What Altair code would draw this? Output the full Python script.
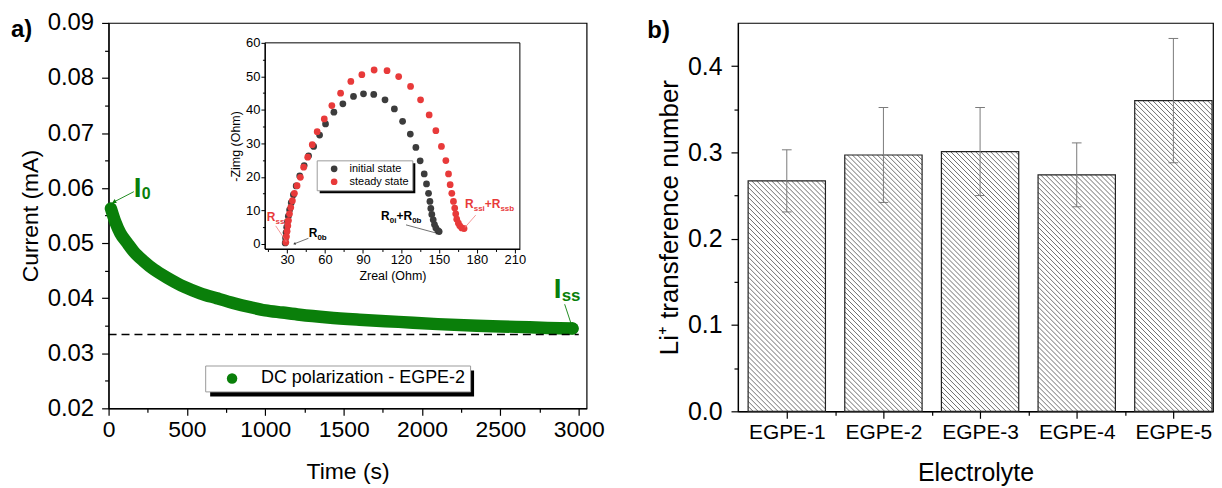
import json
import math
import altair as alt
import pandas as pd

FONT = "Liberation Sans"
GREEN = "#0a7f0a"
RED = "#e83a3a"
DARK = "#3c3c3c"

# ---------------- Panel a : DC polarization ----------------
time_s = [15, 45, 75, 120, 160, 225, 290, 375, 480, 585, 690, 800, 900, 1000, 1110,
          1220, 1400, 1600, 1850, 2100, 2350, 2600, 2800, 2960]
current_mA = [0.0563, 0.0537, 0.0518, 0.0500, 0.0485, 0.0467, 0.0452, 0.0437, 0.0421,
              0.0409, 0.0400, 0.0391, 0.0384, 0.0378, 0.0374, 0.0370, 0.0365, 0.0361,
              0.0357, 0.0353, 0.0350, 0.0348, 0.0346, 0.0345]
steady_level = [0.0334]
steady_span = [0, 3000]
series_label = "DC polarization - EGPE-2"

# ---------------- Inset : Nyquist plots ----------------
init_zreal = [28.5, 28.8, 29.2, 29.7, 30.3, 31.0, 32.0, 33.3, 35.0, 37.2, 40.0, 43.5, 47.0,
              51.0, 55.7, 60.4, 67.0, 74.1, 82.5, 90.4, 98.5, 107.4, 114.8, 121.3, 127.4,
              131.8, 135.2, 138.4, 140.2, 141.8, 142.9, 143.6, 144.4, 145.5, 146.5, 147.6,
              149.2, 150.2]
init_zimg = [0.3, 1.8, 3.4, 5.0, 6.6, 8.3, 10.2, 12.3, 14.7, 17.3, 20.3, 23.4, 26.3, 29.1,
             32.5, 35.8, 39.3, 41.8, 44.0, 44.8, 44.6, 43.0, 40.3, 36.6, 32.8, 28.8, 24.8,
             20.9, 17.9, 15.1, 12.7, 10.6, 8.8, 7.2, 5.8, 4.8, 4.0, 3.7]
steady_zreal = [29.0, 29.5, 30.0, 30.6, 31.1, 31.9, 32.9, 34.2, 35.8, 37.9, 40.5, 43.1, 46.3,
                49.9, 53.8, 59.4, 65.4, 72.3, 80.4, 89.1, 98.8, 109.0, 118.2, 127.6, 135.5,
                142.3, 147.6, 152.0, 155.5, 157.6, 158.9, 160.2, 161.5, 162.5, 163.3, 164.1,
                165.4, 166.5, 168.1, 169.9]
steady_zimg = [0.5, 2.2, 3.8, 5.4, 7.0, 9.0, 10.9, 12.9, 15.1, 17.4, 19.9, 22.9, 25.9, 29.6,
               33.5, 37.3, 41.3, 45.0, 48.5, 50.5, 51.9, 51.7, 49.95, 47.0, 43.0, 38.5, 33.8,
               29.1, 24.9, 20.9, 17.7, 15.1, 12.7, 10.7, 9.0, 7.4, 6.2, 5.4, 4.8, 4.6]
state_labels = ["initial state", "steady state"]

# ---------------- Panel b : transference numbers ----------------
electrolytes = ["EGPE-1", "EGPE-2", "EGPE-3", "EGPE-4", "EGPE-5"]
t_li = [0.267, 0.297, 0.301, 0.274, 0.360]
t_err = [0.036, 0.055, 0.051, 0.037, 0.072]

# ---------------- geometry / styling ----------------
W_A, H_A = 480, 387
XA = [0, 3050]
YA = [0.02, 0.09]
SXA = W_A / (XA[1] - XA[0])
SYA = H_A / (YA[1] - YA[0])

IN_X = [12.5, 214]
IN_Y = [-1.5, 60]
IN_XR = [157, 413]
IN_YR = [227, 20]
SXI = (IN_XR[1] - IN_XR[0]) / (IN_X[1] - IN_X[0])
SYI = (IN_YR[0] - IN_YR[1]) / (IN_Y[1] - IN_Y[0])

W_B, H_B = 477, 390
XB = [0.495, 5.41]
YB = [0, 0.45]
SXB = W_B / (XB[1] - XB[0])
SYB = H_B / (YB[1] - YB[0])
BAR_HALF = 0.4
CAP_HALF = 0.05
HATCH_STEP = 5.0


def pieces(x, y, parts, sx, sy, color):
    return [dict(x=x + dx / sx, y=y - dy / sy, text=t, size=s, color=color)
            for t, dx, dy, s in parts]


def arrow(x0, y0, x1, y1, sx, sy, color):
    dxp = (x1 - x0) * sx
    dyp = -(y1 - y0) * sy
    ang = math.degrees(math.atan2(dxp, -dyp)) % 360
    return dict(x0=x0, y0=y0, x1=x1, y1=y1, ang=ang, color=color)


def major_axis(orient, values, fmt=None, lsize=23, tsize=23, tick=7, lpad=4, tpad=8,
               offset=None, width=1.2):
    kw = dict(orient=orient, values=values, tickSize=tick, labelFontSize=lsize,
              titleFontSize=tsize, labelPadding=lpad, titlePadding=tpad,
              labelOverlap=False, domainWidth=width, tickWidth=width)
    if fmt:
        kw["format"] = fmt
    if orient in ("bottom", "top"):
        kw["labelFlush"] = False
    if offset is not None:
        kw["offset"] = offset
    return alt.Axis(**kw)


def minor_axis(orient, values, tick=4, offset=None, width=1.2):
    kw = dict(orient=orient, values=values, tickSize=tick, labels=False, domain=False,
              title=None, tickWidth=width, grid=False)
    if offset is not None:
        kw["offset"] = offset
    return alt.Axis(**kw)


one = pd.DataFrame({"k": [0]})

# ================= Panel a =================
xs_a = alt.Scale(domain=XA, nice=False, zero=False)
ys_a = alt.Scale(domain=YA, nice=False, zero=False)

x_axis_a = major_axis("bottom", list(range(0, 3001, 500)), fmt="d", lsize=23, tsize=23,
                      lpad=3, tpad=19)
x_minor_a = minor_axis("bottom", list(range(250, 3001, 500)))
y_axis_a = major_axis("left", [round(0.02 + 0.01 * k, 2) for k in range(8)], fmt=".2f",
                      lsize=24, tsize=23, lpad=8, tpad=5)
y_minor_a = minor_axis("left", [round(0.025 + 0.01 * k, 3) for k in range(7)])

df_dc = pd.DataFrame({"t": time_s, "I": current_mA, "series": series_label})

curve = alt.Chart(df_dc).mark_line(
    color=GREEN, strokeWidth=12.5, strokeCap="round", strokeJoin="round", interpolate="monotone"
).encode(
    x=alt.X("t:Q", scale=xs_a, axis=x_axis_a, title="Time (s)"),
    y=alt.Y("I:Q", scale=ys_a, axis=y_axis_a, title="Current (mA)"),
)

curve_pts = alt.Chart(df_dc.tail(1)).mark_circle(size=150, opacity=1).encode(
    x=alt.X("t:Q", scale=xs_a, axis=None),
    y=alt.Y("I:Q", scale=ys_a, axis=None),
    color=alt.Color("series:N", scale=alt.Scale(domain=[series_label], range=[GREEN]),
                    legend=alt.Legend(title=None, orient="none", legendX=97, legendY=344,
                                      fillColor="white", strokeColor="#9a9a9a", padding=4,
                                      labelFontSize=18, labelFont=FONT, labelLimit=400,
                                      symbolSize=110, symbolOffset=14, labelOffset=20,
                                      symbolType="circle", symbolStrokeWidth=0)),
)

df_dash = pd.DataFrame({"t0": [steady_span[0]], "t1": [steady_span[1]], "I": steady_level})
dash = alt.Chart(df_dash).mark_rule(color="black", strokeWidth=1.5, strokeDash=[8, 5]).encode(
    x=alt.X("t0:Q", scale=xs_a, axis=x_minor_a), x2="t1:Q",
    y=alt.Y("I:Q", scale=ys_a, axis=y_minor_a),
)

txt_a = (pieces(161, 0.05844, [("I", 0, 0, 28), ("0", 8, 2, 16)], SXA, SYA, GREEN)
         + pieces(2840, 0.04013, [("I", 0, 0, 28), ("ss", 8, 4, 17)], SXA, SYA, GREEN))
df_txt_a = pd.DataFrame(txt_a)
ann_a = alt.Chart(df_txt_a).mark_text(align="left", baseline="alphabetic", fontWeight="bold",
                                      font=FONT).encode(
    x=alt.X("x:Q", scale=xs_a, axis=None),
    y=alt.Y("y:Q", scale=ys_a, axis=None),
    text="text:N",
    size=alt.Size("size:Q", scale=None),
    color=alt.Color("color:N", scale=None),
)
arr_a = pd.DataFrame([arrow(161, 0.05935, 38, 0.05754, SXA, SYA, GREEN),
                      arrow(2910, 0.03891, 2952, 0.03529, SXA, SYA, GREEN)])
arr_a_lines = alt.Chart(arr_a).mark_rule(strokeWidth=0.9).encode(
    x=alt.X("x0:Q", scale=xs_a, axis=None), x2="x1:Q",
    y=alt.Y("y0:Q", scale=ys_a, axis=None), y2="y1:Q",
    color=alt.Color("color:N", scale=None),
)
arr_a_heads = alt.Chart(arr_a).mark_point(shape="triangle", filled=True, size=22, opacity=1).encode(
    x=alt.X("x1:Q", scale=xs_a, axis=None),
    y=alt.Y("y1:Q", scale=ys_a, axis=None),
    angle=alt.Angle("ang:Q", scale=None),
    color=alt.Color("color:N", scale=None),
)

shadow_a = alt.Chart(one).mark_rect(color="black").encode(
    x=alt.value(102), x2=alt.value(367), y=alt.value(349), y2=alt.value(375))
label_a = alt.Chart(one).mark_text(text="a)", align="left", baseline="alphabetic",
                                   fontSize=24, fontWeight="bold", font=FONT, color="black").encode(
    x=alt.value(-98), y=alt.value(14))

main_group = alt.layer(curve, dash, arr_a_lines, arr_a_heads, ann_a, curve_pts,
                       shadow_a, label_a).resolve_axis(x="independent", y="independent")

# ---- inset ----
xs_i = alt.Scale(domain=IN_X, range=IN_XR, nice=False, zero=False)
ys_i = alt.Scale(domain=IN_Y, range=IN_YR, nice=False, zero=False)
OFF_IX = IN_YR[0] - H_A
OFF_IY = -IN_XR[0]
x_axis_i = major_axis("bottom", list(range(30, 211, 30)), lsize=13, tsize=12.5, tick=4,
                      lpad=1, tpad=3, offset=OFF_IX, width=1)
x_minor_i = minor_axis("bottom", list(range(15, 211, 30)), tick=2.5, offset=OFF_IX, width=1)
y_axis_i = major_axis("left", list(range(0, 61, 10)), lsize=13, tsize=12.5, tick=4,
                      lpad=1, tpad=3, offset=OFF_IY, width=1)
y_minor_i = minor_axis("left", list(range(5, 61, 10)), tick=2.5, offset=OFF_IY, width=1)

df_eis = pd.concat([
    pd.DataFrame({"zr": init_zreal, "zi": init_zimg, "state": state_labels[0]}),
    pd.DataFrame({"zr": steady_zreal, "zi": steady_zimg, "state": state_labels[1]}),
], ignore_index=True)

eis_pts = alt.Chart(df_eis).mark_circle(size=46, opacity=1).encode(
    x=alt.X("zr:Q", scale=xs_i, axis=x_axis_i, title="Zreal (Ohm)"),
    y=alt.Y("zi:Q", scale=ys_i, axis=y_axis_i, title="-Zimg (Ohm)"),
    color=alt.Color("state:N", scale=alt.Scale(domain=state_labels, range=[DARK, RED]),
                    legend=alt.Legend(title=None, orient="none", legendX=209, legendY=138,
                                      fillColor="white", strokeColor="#9a9a9a", padding=3,
                                      labelFontSize=11, labelFont=FONT, symbolSize=45,
                                      symbolOffset=9, labelOffset=10, rowPadding=1,
                                      symbolType="circle", symbolStrokeWidth=0)),
    order=alt.Order("state:N"),
)

df_frame = pd.DataFrame({"x0": [IN_X[0]], "x1": [IN_X[1]], "y0": [IN_Y[0]], "y1": [IN_Y[1]]})
frame_i = alt.Chart(df_frame).mark_rect(fillOpacity=0, stroke="black", strokeWidth=1).encode(
    x=alt.X("x0:Q", scale=xs_i, axis=x_minor_i), x2="x1:Q",
    y=alt.Y("y0:Q", scale=ys_i, axis=y_minor_i), y2="y1:Q",
)

txt_i = (pieces(14.0, 6.9, [("R", 0, 0, 12), ("ssb", 8.7, 3, 8)], SXI, SYI, RED)
         + pieces(47.1, 2.1, [("R", 0, 0, 12), ("0b", 8.7, 3, 8)], SXI, SYI, "black")
         + pieces(104.3, 7.2, [("R", 0, 0, 12), ("0i", 8.7, 3, 8), ("+R", 15.5, 0, 12),
                               ("0b", 31.2, 3, 8)], SXI, SYI, "black")
         + pieces(170.7, 10.7, [("R", 0, 0, 12), ("ssi", 8.7, 3, 8), ("+R", 19.8, 0, 12),
                                ("ssb", 35.5, 3, 8)], SXI, SYI, RED))
df_txt_i = pd.DataFrame(txt_i)
ann_i = alt.Chart(df_txt_i).mark_text(align="left", baseline="alphabetic", fontWeight="bold",
                                      font=FONT).encode(
    x=alt.X("x:Q", scale=xs_i, axis=None),
    y=alt.Y("y:Q", scale=ys_i, axis=None),
    text="text:N",
    size=alt.Size("size:Q", scale=None),
    color=alt.Color("color:N", scale=None),
)
arr_i = pd.DataFrame([
    arrow(21.0, 5.4, 29.0, 0.9, SXI, SYI, "#f06a6a"),
    arrow(46.9, 1.7, 36.1, 0.1, SXI, SYI, "#333333"),
    arrow(124.0, 5.7, 148.4, 3.2, SXI, SYI, "#333333"),
    arrow(179.1, 8.6, 171.2, 5.2, SXI, SYI, "#f06a6a"),
])
arr_i_lines = alt.Chart(arr_i).mark_rule(strokeWidth=0.7).encode(
    x=alt.X("x0:Q", scale=xs_i, axis=None), x2="x1:Q",
    y=alt.Y("y0:Q", scale=ys_i, axis=None), y2="y1:Q",
    color=alt.Color("color:N", scale=None),
)
arr_i_heads = alt.Chart(arr_i).mark_point(shape="triangle", filled=True, size=8, opacity=1).encode(
    x=alt.X("x1:Q", scale=xs_i, axis=None),
    y=alt.Y("y1:Q", scale=ys_i, axis=None),
    angle=alt.Angle("ang:Q", scale=None),
    color=alt.Color("color:N", scale=None),
)
shadow_i = alt.Chart(one).mark_rect(color="black").encode(
    x=alt.value(212), x2=alt.value(308), y=alt.value(141), y2=alt.value(171))

inset_group = alt.layer(eis_pts, frame_i, arr_i_lines, arr_i_heads, ann_i,
                        shadow_i).resolve_axis(x="independent", y="independent")

panel_a = alt.layer(main_group, inset_group).resolve_scale(
    x="independent", y="independent", color="independent"
).properties(width=W_A, height=H_A)

# ================= Panel b =================
df_b = pd.DataFrame({"name": electrolytes, "pos": list(range(1, len(electrolytes) + 1)),
                     "v": t_li, "e": t_err})

hatch = []
for pos, v in zip(df_b["pos"], t_li):
    L = (pos - BAR_HALF) * SXB
    R = (pos + BAR_HALF) * SXB
    T = v * SYB
    k = L + HATCH_STEP
    while k < R + T:
        x1 = max(L, k - T)
        x2 = min(R, k)
        if x2 > x1:
            hatch.append(dict(hx1=x1 / SXB, hy1=(k - x1) / SYB, hx2=x2 / SXB, hy2=(k - x2) / SYB))
        k += HATCH_STEP
df_hatch = pd.DataFrame(hatch)

xs_b = alt.Scale(domain=XB, nice=False, zero=False)
ys_b = alt.Scale(domain=YB, nice=False, zero=False)
names_js = json.dumps(electrolytes)
x_axis_b = alt.Axis(
    orient="bottom", values=list(range(1, len(electrolytes) + 1)),
    labelExpr=f"{names_js}[datum.value - 1]",
    tickSize=7, labelFontSize=21, titleFontSize=25, labelPadding=3, titlePadding=18,
    labelFlush=False, labelOverlap=False, domainWidth=1.2, tickWidth=1.2)
x_minor_b = minor_axis("bottom", [1.5, 2.5, 3.5, 4.5])
y_axis_b = major_axis("left", [round(0.1 * k, 1) for k in range(5)], fmt=".1f", lsize=25,
                      tsize=26, tick=7, lpad=9, tpad=5)
y_minor_b = minor_axis("left", [round(0.05 + 0.1 * k, 2) for k in range(4)])

base_b = alt.Chart(df_b).transform_calculate(
    x0=f"datum.pos - {BAR_HALF}", x1=f"datum.pos + {BAR_HALF}",
    lo="datum.v - datum.e", hi="datum.v + datum.e", zero="0",
    c0=f"datum.pos - {CAP_HALF}", c1=f"datum.pos + {CAP_HALF}",
)

bars_fill = base_b.mark_rect(fill="white").encode(
    x=alt.X("x0:Q", scale=xs_b, axis=x_axis_b, title="Electrolyte"), x2="x1:Q",
    y=alt.Y("zero:Q", scale=ys_b, axis=y_axis_b, title="Li\u207a transference number"),
    y2="v:Q",
)
hatch_l = alt.Chart(df_hatch).mark_rule(color="#4a4a4a", strokeWidth=0.8).encode(
    x=alt.X("hx1:Q", scale=xs_b, axis=x_minor_b), x2="hx2:Q",
    y=alt.Y("hy1:Q", scale=ys_b, axis=y_minor_b), y2="hy2:Q",
)
bars_outline = base_b.mark_rect(fillOpacity=0, stroke="#222222", strokeWidth=1.2).encode(
    x=alt.X("x0:Q", scale=xs_b, axis=None), x2="x1:Q",
    y=alt.Y("zero:Q", scale=ys_b, axis=None), y2="v:Q",
)
err_v = base_b.mark_rule(color="#7a7a7a", strokeWidth=1).encode(
    x=alt.X("pos:Q", scale=xs_b, axis=None),
    y=alt.Y("lo:Q", scale=ys_b, axis=None), y2="hi:Q",
)
err_lo = base_b.mark_rule(color="#7a7a7a", strokeWidth=1).encode(
    x=alt.X("c0:Q", scale=xs_b, axis=None), x2="c1:Q",
    y=alt.Y("lo:Q", scale=ys_b, axis=None),
)
err_hi = base_b.mark_rule(color="#7a7a7a", strokeWidth=1).encode(
    x=alt.X("c0:Q", scale=xs_b, axis=None), x2="c1:Q",
    y=alt.Y("hi:Q", scale=ys_b, axis=None),
)
label_b = alt.Chart(one).mark_text(text="b)", align="left", baseline="alphabetic",
                                   fontSize=24, fontWeight="bold", font=FONT, color="black").encode(
    x=alt.value(-91), y=alt.value(15))
# invisible spacer fixing the top extent of panel b
spacer_b = alt.Chart(one).mark_rule(color="white", strokeWidth=0.5).encode(
    x=alt.value(-80), x2=alt.value(-79), y=alt.value(-10))

panel_b = alt.layer(bars_fill, hatch_l, bars_outline, err_v, err_lo, err_hi, label_b,
                    spacer_b).resolve_axis(x="independent", y="independent").properties(
    width=W_B, height=H_B)

chart = alt.hconcat(panel_a, panel_b, spacing=41).properties(
    padding={"left": 2, "top": 1, "right": 0, "bottom": 0}
).configure(font=FONT).configure_view(
    stroke="black", strokeWidth=1.2
).configure_axis(
    grid=False, domainColor="black", tickColor="black", labelColor="black",
    titleColor="black", labelFont=FONT, titleFont=FONT, titleFontWeight="normal"
).configure_legend(labelFont=FONT, labelColor="black")

chart.save("out.html", embed_options={"renderer": "svg", "actions": False})
